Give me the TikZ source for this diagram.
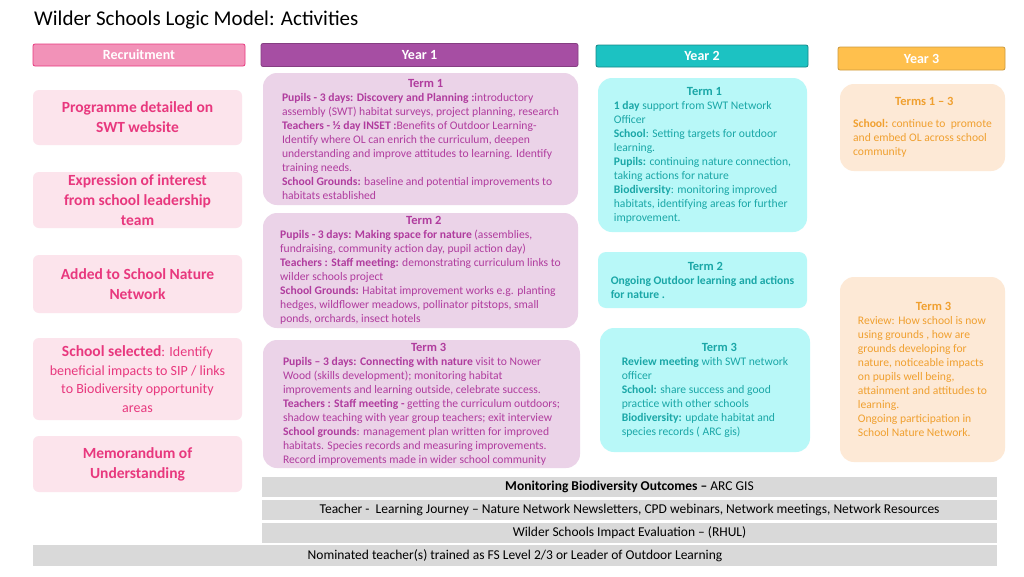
\documentclass[tikz,border=0pt]{standalone}
\usepackage{fontspec}
\setmainfont{Carlito}
\definecolor{recpink}{HTML}{E8387E}
\definecolor{recfill}{HTML}{FCE4EC}
\definecolor{yonetext}{HTML}{B03C9E}
\definecolor{yonefill}{HTML}{EBD3E8}
\definecolor{yonehead}{HTML}{A64EA3}
\definecolor{ytwotext}{HTML}{1AA7A7}
\definecolor{ytwofill}{HTML}{B8F8F8}
\definecolor{ytwohead}{HTML}{1CC2C2}
\definecolor{ythreetext}{HTML}{F0A030}
\definecolor{ythreefill}{HTML}{FDE9D6}
\definecolor{ythreehead}{HTML}{FFC04D}
\definecolor{barfill}{HTML}{D9D9D9}
\newcommand{\termfont}{\fontsize{12.5}{14}\selectfont\bfseries}
\tikzset{
  head/.style={draw, rounded corners=2pt, line width=0.8pt, text=white, font=\fontsize{14}{15}\selectfont\bfseries, inner sep=0pt},
  recbox/.style={fill=recfill, rounded corners=6pt, text=recpink, font=\fontsize{15.5}{20}\selectfont\bfseries, align=center, inner sep=0pt},
  termbox/.style={rounded corners=14pt, align=left, inner sep=0pt, font=\fontsize{11.6}{14}\selectfont},
  bar/.style={fill=barfill, inner sep=0pt, font=\fontsize{13.5}{15}\selectfont},
}
\begin{document}
\begin{tikzpicture}[x=1pt, y=-1pt]
\useasboundingbox (0,0) rectangle (1024,576);
\fill[white] (0,0) rectangle (1024,576);
%Title
\node[anchor=west, inner sep=0pt, font=\fontsize{21}{22}\selectfont] (title) at (34,20) {Wilder Schools Logic Model: Activities};
%Column headers
\node[head, draw=recpink, fill=recpink!55, minimum width=212pt, minimum height=22pt] (recruit) at (139,55) {Recruitment};
\node[head, draw=yonehead!80!black, fill=yonehead, minimum width=317pt, minimum height=23pt] (yearone) at (419.5,55) {Year 1};
\node[head, draw=ytwohead!70!black, fill=ytwohead, minimum width=212pt, minimum height=22pt] (yeartwo) at (702,56) {Year 2};
\node[head, draw=ythreehead!80!black, fill=ythreehead, minimum width=167pt, minimum height=23pt] (yearthree) at (921.5,58.5) {Year 3};
%Recruitment steps
\node[recbox, minimum width=209pt, minimum height=55pt] (progr) at (137.5,117.5) {Programme detailed on\\SWT website};
\node[recbox, minimum width=209pt, minimum height=56pt] (express) at (137.5,200) {Expression of interest\\from school leadership\\team};
\node[recbox, minimum width=209pt, minimum height=58pt] (added) at (137.5,284) {Added to School Nature\\Network};
\node[recbox, minimum width=209pt, minimum height=82pt, font=\fontsize{14}{18.5}\selectfont] (selected) at (137.5,379) {{\fontsize{15.5}{18}\selectfont\bfseries School selected}: Identify\\beneficial impacts to SIP / links\\to Biodiversity opportunity\\areas};
\node[recbox, minimum width=209pt, minimum height=56pt] (memo) at (137.5,464) {Memorandum of\\Understanding};
%Year 1
\node[termbox, fill=yonefill, text=yonetext, minimum width=315pt, minimum height=132pt] (yoneA) at (420.5,139) {\hspace*{126pt}{\termfont Term 1}\\
\textbf{Pupils - 3 days: Discovery and Planning :}introductory\\
assembly (SWT) habitat surveys, project planning, research\\
\textbf{Teachers - ½ day INSET :}Benefits of Outdoor Learning-\\
Identify where OL can enrich the curriculum, deepen\\
understanding and improve attitudes to learning. Identify\\
training needs.\\
\textbf{School Grounds:} baseline and potential improvements to\\
habitats established};
\node[termbox, fill=yonefill, text=yonetext, minimum width=315pt, minimum height=115pt] (yoneB) at (420.5,270.5) {\hspace*{126pt}{\termfont Term 2}\\
\textbf{Pupils - 3 days: Making space for nature} (assemblies,\\
fundraising, community action day, pupil action day)\\
\textbf{Teachers : Staff meeting:} demonstrating curriculum links to\\
wilder schools project\\
\textbf{School Grounds:} Habitat improvement works e.g. planting\\
hedges, wildflower meadows, pollinator pitstops, small\\
ponds, orchards, insect hotels};
\node[termbox, fill=yonefill, text=yonetext, minimum width=317pt, minimum height=128pt] (yoneC) at (421.5,404) {\hspace*{128pt}{\termfont Term 3}\\
\textbf{Pupils – 3 days: Connecting with nature} visit to Nower\\
Wood (skills development); monitoring habitat\\
improvements and learning outside, celebrate success.\\
\textbf{Teachers : Staff meeting -} getting the curriculum outdoors;\\
shadow teaching with year group teachers; exit interview\\
\textbf{School grounds}: management plan written for improved\\
habitats. Species records and measuring improvements.\\
Record improvements made in wider school community};
%Year 2
\node[termbox, fill=ytwofill, text=ytwotext, minimum width=209pt, minimum height=154pt] (ytwoA) at (702.5,155) {\hspace*{73pt}{\termfont Term 1}\\
\textbf{1 day} support from SWT Network\\
Officer\\
\textbf{School}: Setting targets for outdoor\\
learning.\\
\textbf{Pupils:} continuing nature connection,\\
taking actions for nature\\
\textbf{Biodiversity}: monitoring improved\\
habitats, identifying areas for further\\
improvement.};
\node[termbox, fill=ytwofill, text=ytwotext, minimum width=209pt, minimum height=56pt, rounded corners=8pt] (ytwoB) at (702.5,280) {\hspace*{77pt}{\termfont Term 2}\\
\textbf{Ongoing Outdoor learning and actions}\\
\textbf{for nature .}};
\node[termbox, fill=ytwofill, text=ytwotext, minimum width=210pt, minimum height=124pt] (ytwoC) at (705,390) {\hspace*{80pt}{\termfont Term 3}\\
\textbf{Review meeting} with SWT network\\
officer\\
\textbf{School:} share success and good\\
practice with other schools\\
\textbf{Biodiversity:} update habitat and\\
species records ( ARC gis)};
%Year 3
\node[termbox, fill=ythreefill, text=ythreetext, minimum width=165pt, minimum height=87pt] (ythreeA) at (922.5,127.5) {\hspace*{42pt}{\termfont Terms 1 – 3}\\[8pt]
\textbf{School:} continue to\ \ promote\\
and embed OL across school\\
community};
\node[termbox, fill=ythreefill, text=ythreetext, minimum width=165pt, minimum height=185pt] (ythreeB) at (922.5,369.5) {\hspace*{58pt}{\termfont Term 3}\\
Review: How school is now\\
using grounds , how are\\
grounds developing for\\
nature, noticeable impacts\\
on pupils well being,\\
attainment and attitudes to\\
learning.\\
Ongoing participation in\\
School Nature Network.};
%Ongoing strands
\node[bar, minimum width=735pt, minimum height=20pt] (monitor) at (629.5,487) {\textbf{Monitoring Biodiversity Outcomes –} ARC GIS};
\node[bar, minimum width=735pt, minimum height=20pt] (journey) at (629.5,510) {Teacher -\ \ Learning Journey – Nature Network Newsletters, CPD webinars, Network meetings, Network Resources};
\node[bar, minimum width=735pt, minimum height=20pt] (impact) at (629.5,533) {Wilder Schools Impact Evaluation – (RHUL)};
\node[bar, minimum width=964pt, minimum height=21pt] (trained) at (515,555.5) {Nominated teacher(s) trained as FS Level 2/3 or Leader of Outdoor Learning};
\end{tikzpicture}
\end{document}
